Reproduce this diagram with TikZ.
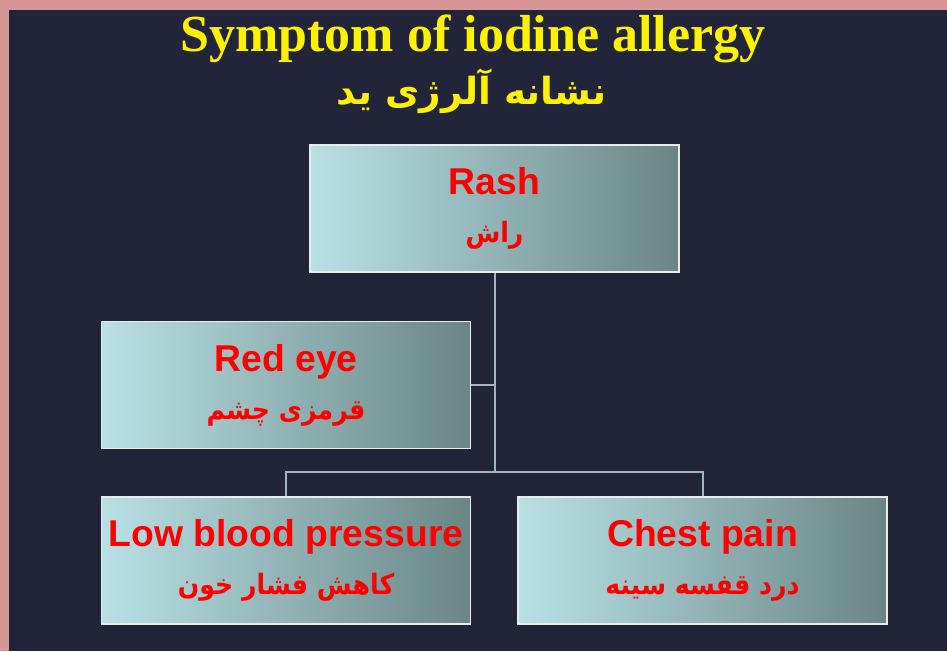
\documentclass[tikz,border=0pt]{standalone}
\usepackage{fontspec}
\setmainfont{Liberation Serif}
\newfontfamily\sansbold{Liberation Sans}
\newfontfamily\farsifont[Script=Arabic]{DejaVu Sans}
\newfontfamily\farsinarrow[Script=Arabic, FakeStretch=0.9]{DejaVu Sans}
\TeXXeTstate=1
\newcommand{\fabox}[1]{{\fontsize{21}{26}\selectfont\farsinarrow\bfseries\beginR #1\endR}}
\newcommand{\fatitle}[1]{{\fontsize{28}{32}\selectfont\farsifont\bfseries\beginR #1\endR}}
\definecolor{slidebg}{HTML}{222539}
\definecolor{edgepink}{HTML}{D99696}
\definecolor{boxleft}{HTML}{B9E1E5}
\definecolor{boxright}{HTML}{6A8585}
\definecolor{linkcol}{HTML}{9FB6BF}
\begin{document}
\begin{tikzpicture}[x=0.75pt, y=-0.75pt,
  box/.style={draw=white!92!black, line width=1.2pt, left color=boxleft, right color=boxright,
              minimum width=277pt, minimum height=95pt, align=center, text=red,
              font=\sansbold\bfseries\fontsize{28}{34}\selectfont},
  link/.style={draw=linkcol, line width=1.5pt},
  heading/.style={text=yellow, anchor=base, inner sep=0pt}
]
  \fill[edgepink] (0,0) rectangle (947,651);
  \fill[slidebg]  (9,10) rectangle (947,651);

  \node[heading, font=\bfseries\fontsize{39}{44}\selectfont] (title) at (473,51) {Symptom of iodine allergy};
  \node[heading] (subtitle) at (472,104) {\fatitle{نشانه آلرژی ید}};

  \node[box] (rash)  at (494.5,208.5) {Rash\\[2pt]\fabox{راش}};
  \node[box] (eye)   at (286,385)     {Red eye\\[2pt]\fabox{قرمزی چشم}};
  \node[box] (lbp)   at (286,560.5)   {Low blood pressure\\[2pt]\fabox{کاهش فشار خون}};
  \node[box] (chest) at (702.5,560.5) {Chest pain\\[2pt]\fabox{درد قفسه سینه}};
  \coordinate (hub) at (494.5,472);

  \draw[link] (rash) -- (hub);
  \draw[link] (eye.east) -- (eye.east -| hub);
  \draw[link] (lbp) |- (hub) -| (chest);
\end{tikzpicture}
\end{document}
